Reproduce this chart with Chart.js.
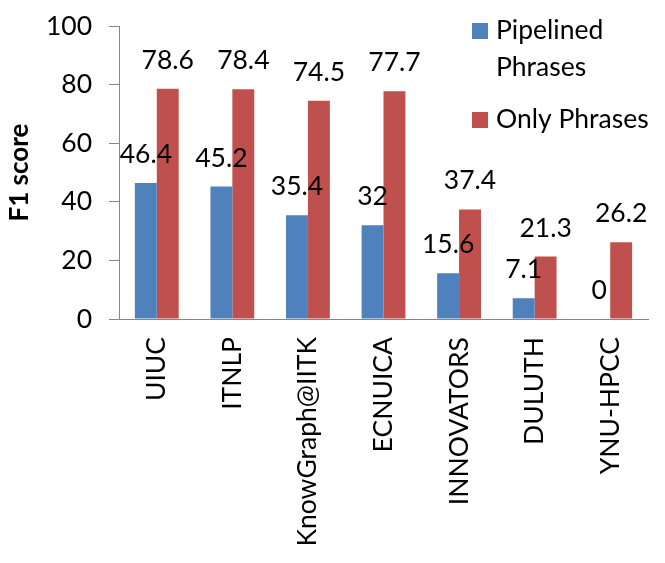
<!DOCTYPE html>
<html>
<head>
<meta charset="utf-8">
<script src="https://cdn.jsdelivr.net/npm/chart.js@4/dist/chart.umd.min.js"></script>
<style>
  html, body { margin: 0; padding: 0; background: #fff; }
  #wrap { width: 665px; height: 563px; }
</style>
</head>
<body>
<div id="wrap"><canvas id="chart" width="665" height="563"></canvas></div>
<script>
const teams = ['UIUC', 'ITNLP', 'KnowGraph@IITK', 'ECNUICA', 'INNOVATORS', 'DULUTH', 'YNU-HPCC']
const pipelined = [46.4, 45.2, 35.4, 32, 15.6, 7.1, 0]
const onlyPhrases = [78.6, 78.4, 74.5, 77.7, 37.4, 21.3, 26.2]
const seriesNames = [['Pipelined', 'Phrases'], ['Only Phrases']]
const yTicks = [0, 20, 40, 60, 80, 100]

const FONT = 'Lato, "Open Sans", "DejaVu Sans", sans-serif'
const SIZE = 26.5
const BLUE = '#4F81BD'
const RED = '#C0504D'
const AXIS = '#868686'

Chart.defaults.font.family = FONT
Chart.defaults.color = '#000'

// value labels over each bar
const barLabels = {
  id: 'barLabels',
  afterDatasetsDraw(chart) {
    const ctx = chart.ctx
    ctx.save()
    ctx.font = SIZE + 'px ' + FONT
    ctx.fillStyle = '#000'
    ctx.textAlign = 'center'
    ctx.textBaseline = 'alphabetic'
    chart.data.datasets.forEach((ds, i) => {
      chart.getDatasetMeta(i).data.forEach((bar, j) => {
        ctx.fillText(String(ds.data[j]), bar.x, bar.y - 20)
      })
    })
    ctx.restore()
  }
}

// excel style legend, top right, wrapping "Pipelined Phrases"
const sideLegend = {
  id: 'sideLegend',
  afterDraw(chart) {
    const ctx = chart.ctx
    ctx.save()
    ctx.font = SIZE + 'px ' + FONT
    ctx.textAlign = 'left'
    ctx.textBaseline = 'alphabetic'
    let y = 39
    chart.data.datasets.forEach((ds, i) => {
      ctx.fillStyle = ds.backgroundColor
      ctx.fillRect(472, y - 16, 16, 16)
      ctx.fillStyle = '#000'
      seriesNames[i].forEach(line => {
        ctx.fillText(line, 496, y)
        y += 37
      })
      y += 15
    })
    ctx.restore()
  }
}

new Chart(document.getElementById('chart'), {
  type: 'bar',
  data: {
    labels: teams,
    datasets: [
      { label: seriesNames[0].join(' '), data: pipelined, backgroundColor: BLUE },
      { label: seriesNames[1].join(' '), data: onlyPhrases, backgroundColor: RED }
    ]
  },
  options: {
    responsive: false,
    animation: false,
    devicePixelRatio: 1,
    layout: { padding: { left: 0, right: 17, top: 26, bottom: 0 } },
    datasets: { bar: { categoryPercentage: 0.58, barPercentage: 1 } },
    plugins: {
      legend: { display: false },
      tooltip: { enabled: false }
    },
    scales: {
      x: {
        grid: { display: false, drawTicks: false },
        border: { display: true, color: AXIS, width: 1 },
        ticks: {
          autoSkip: false,
          minRotation: 90,
          maxRotation: 90,
          padding: 18,
          color: '#000',
          font: { size: SIZE, family: FONT }
        },
        afterFit(scale) {
          scale.height = 563 - 319
          scale.paddingLeft = 0
          scale.paddingRight = 0
        }
      },
      y: {
        min: 0,
        max: 100,
        afterBuildTicks(scale) { scale.ticks = yTicks.map(v => ({ value: v })) },
        grid: { drawOnChartArea: false, drawTicks: true, tickLength: 10, color: AXIS },
        border: { display: true, color: AXIS, width: 1 },
        ticks: { padding: 17, color: '#000', font: { size: SIZE, family: FONT } },
        title: {
          display: true,
          text: 'F1 score',
          color: '#000',
          padding: { top: 4, bottom: 4 },
          font: { size: 26, weight: 'bold', family: FONT }
        },
        afterFit(scale) {
          scale.width = 119
          scale.paddingTop = 0
          scale.paddingBottom = 0
        }
      }
    }
  },
  plugins: [barLabels, sideLegend]
})
</script>
</body>
</html>
